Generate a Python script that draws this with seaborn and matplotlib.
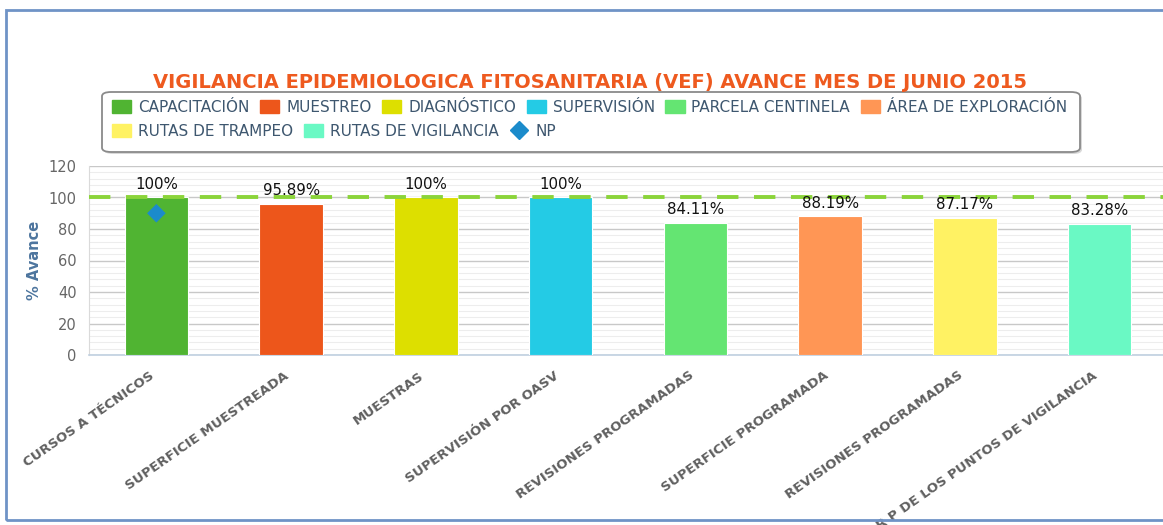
import numpy as np
import pandas as pd
import matplotlib
matplotlib.use("Agg")
import matplotlib.pyplot as plt
from matplotlib.patches import Patch, FancyBboxPatch, Rectangle
from matplotlib.lines import Line2D
from matplotlib.transforms import ScaledTranslation
import seaborn as sns

# ---- data ----
categories = ["CURSOS A TÉCNICOS", "SUPERFICIE MUESTREADA", "MUESTRAS", "SUPERVISIÓN POR OASV",
              "REVISIONES PROGRAMADAS", "SUPERFICIE PROGRAMADA", "REVISIONES PROGRAMADAS",
              "R P DE LOS PUNTOS DE VIGILANCIA"]
series = ["CAPACITACIÓN", "MUESTREO", "DIAGNÓSTICO", "SUPERVISIÓN", "PARCELA CENTINELA",
          "ÁREA DE EXPLORACIÓN", "RUTAS DE TRAMPEO", "RUTAS DE VIGILANCIA"]
values = [100, 95.89, 100, 100, 84.11, 88.19, 87.17, 83.28]
colors = ["#50B432", "#ED561B", "#DDDF00", "#24CBE5", "#64E572", "#FF9655", "#FFF263", "#6AF9C4"]
np_series = ["CAPACITACIÓN"]
np_values = [90]
target = 100
title = "VIGILANCIA EPIDEMIOLOGICA FITOSANITARIA (VEF) AVANCE MES DE JUNIO 2015"

W, H = 1163, 525
sns.set_theme(style="white")
plt.rcParams["font.family"] = ["DejaVu Sans"]

fig = plt.figure(figsize=(W / 100, H / 100), dpi=100)
fig.patch.set_facecolor("white")

# plot area in pixels
L, R, T, B = 89, 1167, 166, 355
ax = fig.add_axes([L / W, 1 - B / H, (R - L) / W, (B - T) / H])
ax.set_facecolor("white")

df = pd.DataFrame({"serie": series, "valor": values})
pal = dict(zip(series, colors))
sns.barplot(data=df, x="serie", y="valor", hue="serie", order=series, hue_order=series,
            palette=pal, dodge=False, width=0.47, legend=False, saturation=1,
            edgecolor="white", linewidth=0.8, ax=ax, zorder=3)

# grid
ax.set_ylim(0, 120)
ax.set_xlim(-0.5, len(series) - 0.5)
ax.set_yticks(np.arange(0, 121, 20))
ax.set_yticks(np.arange(0, 121, 4), minor=True)
ax.yaxis.grid(True, which="major", color="#C8C8C8", linewidth=1.0, zorder=0)
ax.yaxis.grid(True, which="minor", color="#EDEDED", linewidth=0.8, zorder=0)
ax.set_axisbelow(True)

# target line
ax.axhline(target, color="#8BD43A", linewidth=2.8, dashes=(5.5, 4), zorder=4)

# NP diamond
np_x = [series.index(s) for s in np_series]
sns.scatterplot(x=np_x, y=np_values, marker="D", s=90, color="#1B8BCB",
                edgecolor="none", ax=ax, zorder=5, legend=False)

# data labels
for i, v in enumerate(values):
    lab = f"{v:g}%" if float(v).is_integer() else f"{v:.2f}%"
    ax.annotate(lab, (i, v), xytext=(0, 4), textcoords="offset points",
                ha="center", va="bottom", fontsize=10.8, color="#111111", zorder=6)

# axes styling
for s in ["top", "right"]:
    ax.spines[s].set_visible(False)
ax.spines["left"].set_color("#DADADA")
ax.spines["left"].set_linewidth(0.8)
ax.spines["bottom"].set_color("#C0D0E0")
ax.spines["bottom"].set_linewidth(1.2)

ax.tick_params(axis="y", which="both", length=0, pad=9, labelsize=10.5, labelcolor="#666666")
ax.set_xticks(range(len(series)))
ax.set_xticklabels([""] * len(series))
ax.tick_params(axis="x", which="major", length=0)
ax.set_xticks(np.arange(-0.5, len(series), 1.0), minor=True)
ax.tick_params(axis="x", which="minor", length=6, width=2.5, color="#333333", direction="out")
ax.set_xlabel("")
ax.set_ylabel("% Avance", fontsize=10.5, fontweight="bold", color="#4D759E", labelpad=5)

# category labels (rotated, right end at the category centre)
lab_tr = ax.get_xaxis_transform() + ScaledTranslation(-7 / 100, -14 / 100, fig.dpi_scale_trans)
for i, c in enumerate(categories):
    ax.text(i, 0, c, transform=lab_tr, rotation=35, rotation_mode="anchor",
            ha="right", va="top", fontsize=9.6, fontweight="bold", color="#606060",
            clip_on=False)

# title
fig.text(590 / W, 1 - 82 / H, title, ha="center", va="center", fontsize=14,
         fontweight="bold", color="#EE5A1F")

# legend box with shadow
bx0, by0, bx1, by1 = 102, 92, 1080, 152
shadow = FancyBboxPatch(((bx0 + 2) / W, 1 - (by1 + 2) / H), (bx1 - bx0) / W, (by1 - by0) / H,
                        boxstyle="round,pad=0,rounding_size=0.008", transform=fig.transFigure,
                        facecolor="#D8D8D8", edgecolor="none", zorder=1)
box = FancyBboxPatch((bx0 / W, 1 - by1 / H), (bx1 - bx0) / W, (by1 - by0) / H,
                     boxstyle="round,pad=0,rounding_size=0.008", transform=fig.transFigure,
                     facecolor="white", edgecolor="#8A8A8A", linewidth=1.3, zorder=2)
fig.patches.extend([shadow, box])

handles = [Patch(facecolor=c, edgecolor=c) for c in colors]
np_handle = Line2D([], [], marker="D", color="#1B8BCB", linestyle="", markersize=9)
row1_h, row1_l = handles[:6], series[:6]
row2_h, row2_l = handles[6:] + [np_handle], series[6:] + ["NP"]
common = dict(frameon=False, fontsize=11, handlelength=1.25, handleheight=0.9,
              handletextpad=0.45, columnspacing=0.7, borderpad=0, borderaxespad=0,
              labelcolor="#3E576F", loc="center left")
leg1 = fig.legend(row1_h, row1_l, ncol=6, bbox_to_anchor=(112 / W, 1 - 107 / H), **common)
leg2 = fig.legend(row2_h, row2_l, ncol=3, bbox_to_anchor=(112 / W, 1 - 131 / H), **common)
for lg in (leg1, leg2):
    lg.set_zorder(3)

# outer frame
fig.patches.append(Rectangle((6 / W, 5 / H), 1.2, (515 - 5) / H, transform=fig.transFigure,
                             facecolor="none", edgecolor="#6F93C6", linewidth=2.0, zorder=0))

fig.savefig("out.png", dpi=100, facecolor="white")
